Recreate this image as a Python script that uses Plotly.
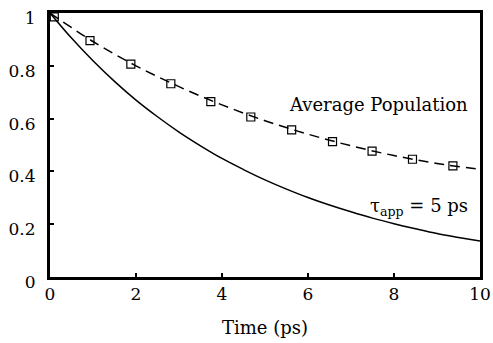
import plotly.graph_objects as go

# Solid curve (tau_app = 5 ps)
t_solid = [0, 0.5, 1, 1.5, 2, 2.5, 3, 3.5, 4, 4.5, 5, 5.5, 6, 6.5, 7, 7.5, 8, 8.5, 9, 9.5, 10]
y_solid = [1.0, 0.905, 0.819, 0.741, 0.670, 0.607, 0.549, 0.497, 0.449, 0.407, 0.368,
           0.333, 0.301, 0.273, 0.247, 0.223, 0.202, 0.183, 0.165, 0.150, 0.136]

# Dashed curve (average population fit)
t_dash = [0, 1, 2, 3, 4, 5, 6, 7, 8, 9, 10]
y_dash = [1.0, 0.892, 0.800, 0.721, 0.652, 0.592, 0.541, 0.497, 0.460, 0.430, 0.408]

# Square markers (average population data)
t_pts = [0.1, 0.93, 1.88, 2.81, 3.74, 4.67, 5.62, 6.57, 7.49, 8.43, 9.37]
y_pts = [0.985, 0.895, 0.806, 0.732, 0.664, 0.606, 0.557, 0.513, 0.477, 0.446, 0.421]

x_ticks = [0, 2, 4, 6, 8, 10]
y_ticks = [0, 0.2, 0.4, 0.6, 0.8, 1]
y_tick_text = ["0", "0.2", "0.4", "0.6", "0.8", "1"]

FONT = "DejaVu Serif"

fig = go.Figure()
fig.add_trace(go.Scatter(x=t_solid, y=y_solid, mode="lines",
                         line=dict(color="black", width=1.5, shape="spline"),
                         showlegend=False))
fig.add_trace(go.Scatter(x=t_dash, y=y_dash, mode="lines",
                         line=dict(color="black", width=1.5, dash="10px,6px", shape="spline"),
                         showlegend=False))
fig.add_trace(go.Scatter(x=t_pts, y=y_pts, mode="markers",
                         marker=dict(symbol="square-open", size=8, color="black",
                                     line=dict(width=1.2, color="black")),
                         showlegend=False))

fig.add_annotation(x=9.77, y=0.655, xref="x", yref="y", text="Average Population",
                   showarrow=False, xanchor="right", yanchor="middle",
                   font=dict(family=FONT, size=18, color="black"))
fig.add_annotation(x=9.77, y=0.265, xref="x", yref="y", text="τ<sub>app</sub> = 5 ps",
                   showarrow=False, xanchor="right", yanchor="middle",
                   font=dict(family=FONT, size=18, color="black"))

fig.update_layout(
    width=493, height=343,
    margin=dict(l=50, r=13, t=13, b=66),
    paper_bgcolor="white", plot_bgcolor="white",
    font=dict(family=FONT, size=17, color="black"),
    xaxis=dict(range=[0, 10], tickvals=x_ticks, ticktext=[str(v) for v in x_ticks],
               showgrid=False, zeroline=False, showline=True, mirror=True,
               linecolor="black", linewidth=3, ticks="inside", ticklen=4,
               tickwidth=2, tickcolor="black", automargin=False,
               tickfont=dict(family=FONT, size=17, color="black"),
               title=dict(text="Time (ps)", standoff=18, font=dict(family=FONT, size=18))),
    yaxis=dict(range=[0, 1], tickvals=y_ticks, ticktext=y_tick_text,
               showgrid=False, zeroline=False, showline=True, mirror=True,
               linecolor="black", linewidth=3, ticks="inside", ticklen=4,
               tickwidth=2, tickcolor="black", ticklabelstandoff=8,
               ticklabelshift=5, automargin=False,
               tickfont=dict(family=FONT, size=17, color="black")),
)

fig.write_html("out.html")
